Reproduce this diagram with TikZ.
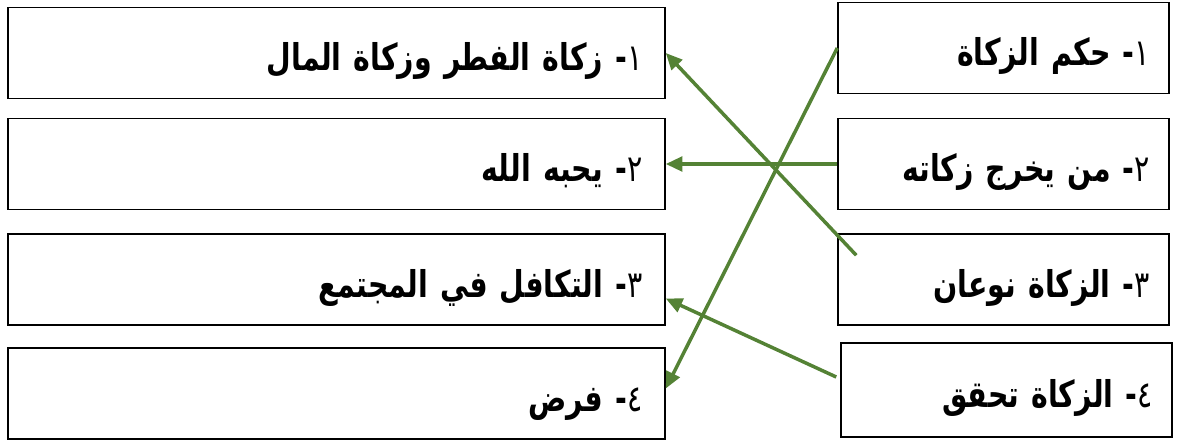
\documentclass[tikz,border=0pt]{standalone}
\usepackage{fontspec}
\usetikzlibrary{arrows.meta}
\TeXXeTstate=1
\newfontfamily\arabicfont[Script=Arabic,FakeStretch=0.77]{DejaVu Sans}
\definecolor{linkgreen}{RGB}{84,130,53}
\newcommand{\num}[1]{{\mdseries #1}}

\begin{document}
\begin{tikzpicture}[x=0.2mm,y=-0.2mm,
  leftbox/.style={draw=black,line width=0.3mm,minimum height=18.2mm,
    text width=122.4mm,inner xsep=4.5mm,align=right,
    text height=8mm,text depth=1mm,
    font=\arabicfont\bfseries\fontsize{21}{25}\selectfont},
  rightbox/.style={leftbox,text width=58.6mm,inner xsep=3.8mm},
  link/.style={linkgreen,line width=0.7mm,-{Triangle[length=3.3mm,width=2.9mm]}}]
  \useasboundingbox (0,0) rectangle (1181,443);
  % left column
  \node[leftbox] (L1) at (336.5,53)    {\beginR\num{١}- زكاة الفطر وزكاة المال\endR};
  \node[leftbox] (L2) at (336.5,164)   {\beginR\num{٢}- يحبه الله\endR};
  \node[leftbox] (L3) at (336.5,279.5) {\beginR\num{٣}- التكافل في المجتمع\endR};
  \node[leftbox] (L4) at (336.5,393.5) {\beginR\num{٤}- فرض\endR};
  % right column
  \node[rightbox] (R1) at (1003.5,48)  {\beginR\num{١}- حكم الزكاة\endR};
  \node[rightbox] (R2) at (1003.5,164) {\beginR\num{٢}- من يخرج زكاته\endR};
  \node[rightbox] (R3) at (1003.5,279.5) {\beginR\num{٣}- الزكاة نوعان\endR};
  \node[rightbox,minimum height=18.8mm] (R4) at (1006.5,390) {\beginR\num{٤}- الزكاة تحقق\endR};
  % answers
  \coordinate (s3) at ([shift={(19,22)}]R3.north west);
  \coordinate (s4) at ([shift={(-4,-13)}]R4.west);
  \draw[link] (R1.west) -- ([shift={(0,-5)}]L4.east);
  \draw[link] (R2.west) -- (L2.east);
  \draw[link] (s3) -- (L1.east);
  \draw[link] (s4) -- ([shift={(0,19)}]L3.east);
\end{tikzpicture}
\end{document}
